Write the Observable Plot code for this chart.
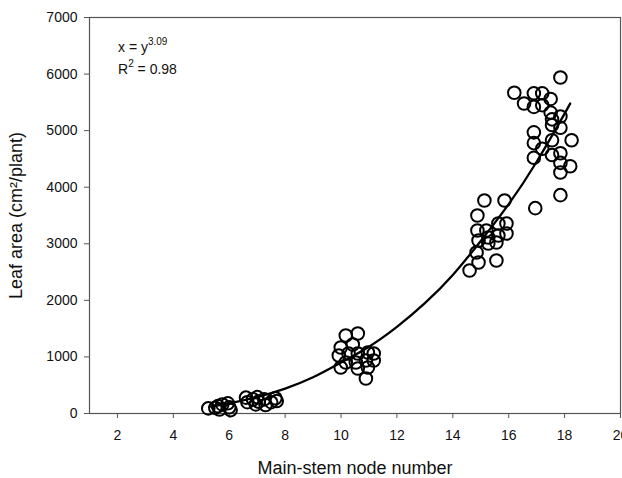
<!DOCTYPE html>
<html><head><meta charset="utf-8">
<script src="https://cdn.jsdelivr.net/npm/d3@7"></script>
<script src="https://cdn.jsdelivr.net/npm/@observablehq/plot@0.6"></script>
<style>body{margin:0;background:#fff;}</style>
</head><body><div id="chart"></div>
<script>
// Observed points: main-stem node number and leaf area (cm2/plant)
const nodes = [
  5.25,5.5,5.6,5.65,5.75,5.95,6.0,6.05,
  6.6,6.65,6.85,7.0,7.05,6.95,7.25,7.3,7.5,7.65,7.7,
  10.17,10.6,9.99,10.42,9.92,10.27,10.6,10.96,11.17,10.17,10.53,10.89,11.17,9.99,10.6,10.96,10.89,
  15.13,15.85,14.88,14.88,15.2,15.63,15.92,15.92,15.27,15.63,15.56,14.92,15.27,14.85,14.92,15.56,14.6,
  16.2,16.55,16.9,17.2,16.9,17.2,17.5,17.5,17.85,16.9,16.9,16.9,16.95,17.2,17.55,17.55,17.55,17.85,17.85,17.85,17.85,17.85,17.85,18.25,18.2,17.55
];
const leafArea = [
  90,100,130,70,160,180,110,60,
  280,200,250,290,210,160,250,150,200,270,220,
  1379,1414,1167,1220,1025,1060,1060,1078,1060,901,901,937,937,813,795,813,619,
  3765,3765,3500,3235,3235,3359,3359,3182,3111,3147,3023,3058,3005,2846,2669,2705,2528,
  5670,5480,5660,5660,5420,5450,5560,5320,5940,4970,4780,4520,3630,4680,5100,4830,4570,5250,5050,4600,4430,4260,3860,4830,4370,5200
];
// Fitted curve
const fitNodes = [5.3,6,7,8,9,10,11,12,13,14,15,16,17,18,18.2];
const fitArea  = [120,180,290,440,640,900,1180,1530,1950,2450,3050,3700,4450,5300,5480];
const xTicks = [2,4,6,8,10,12,14,16,18,20];
const yTicks = [0,1000,2000,3000,4000,5000,6000,7000];

const points = nodes.map((n,i)=>({node:n, area:leafArea[i]}));
const fit = fitNodes.map((n,i)=>({node:n, area:fitArea[i]}));

const plot = Plot.plot({
  width: 622, height: 478,
  marginLeft: 89, marginRight: 2, marginTop: 17, marginBottom: 65,
  style: {fontFamily: "'Liberation Sans', Arial, sans-serif", fontSize: "14px", background: "#fff", color: "#111"},
  x: {domain: [1, 20]},
  y: {domain: [0, 7000]},
  marks: [
    Plot.frame({stroke: "#555", strokeWidth: 1.2}),
    Plot.axisX({ticks: xTicks, tickSize: 5, tickPadding: 12, fontSize: 14, stroke: "#555",
      label: "Main-stem node number", labelAnchor: "center", labelArrow: false, labelOffset: 60}),
    Plot.axisY({ticks: yTicks, tickSize: 5, tickPadding: 7, fontSize: 14, tickFormat: "d", stroke: "#555",
      label: "Leaf area (cm²/plant)", labelAnchor: "center", labelArrow: false, labelOffset: 80}),
    Plot.line(fit, {x: "node", y: "area", curve: "natural", stroke: "black", strokeWidth: 2.3}),
    Plot.dot(points, {x: "node", y: "area", r: 6.3, stroke: "black", strokeWidth: 2, fill: "none"})
  ]
});
document.getElementById("chart").appendChild(plot);

// axis title sizes
d3.select(plot).selectAll("text").each(function(){
  const t = this.textContent;
  if (t.includes("Main-stem") || t.includes("Leaf area")) d3.select(this).style("font-size", "18px");
});

// annotation
const svg = d3.select(plot);
const ann = svg.append("g").attr("font-family", "'Liberation Sans', Arial, sans-serif")
  .attr("font-size", 14).attr("fill", "#111").attr("text-anchor", "start");
const t1 = ann.append("text").attr("x", 118).attr("y", 52);
t1.append("tspan").text("x = y");
t1.append("tspan").attr("dy", -7).attr("font-size", 10).text("3.09");
const t2 = ann.append("text").attr("x", 118).attr("y", 74);
t2.append("tspan").text("R");
t2.append("tspan").attr("dy", -7).attr("font-size", 10).text("2");
t2.append("tspan").attr("dy", 7).text(" = 0.98");
</script>
</body></html>
